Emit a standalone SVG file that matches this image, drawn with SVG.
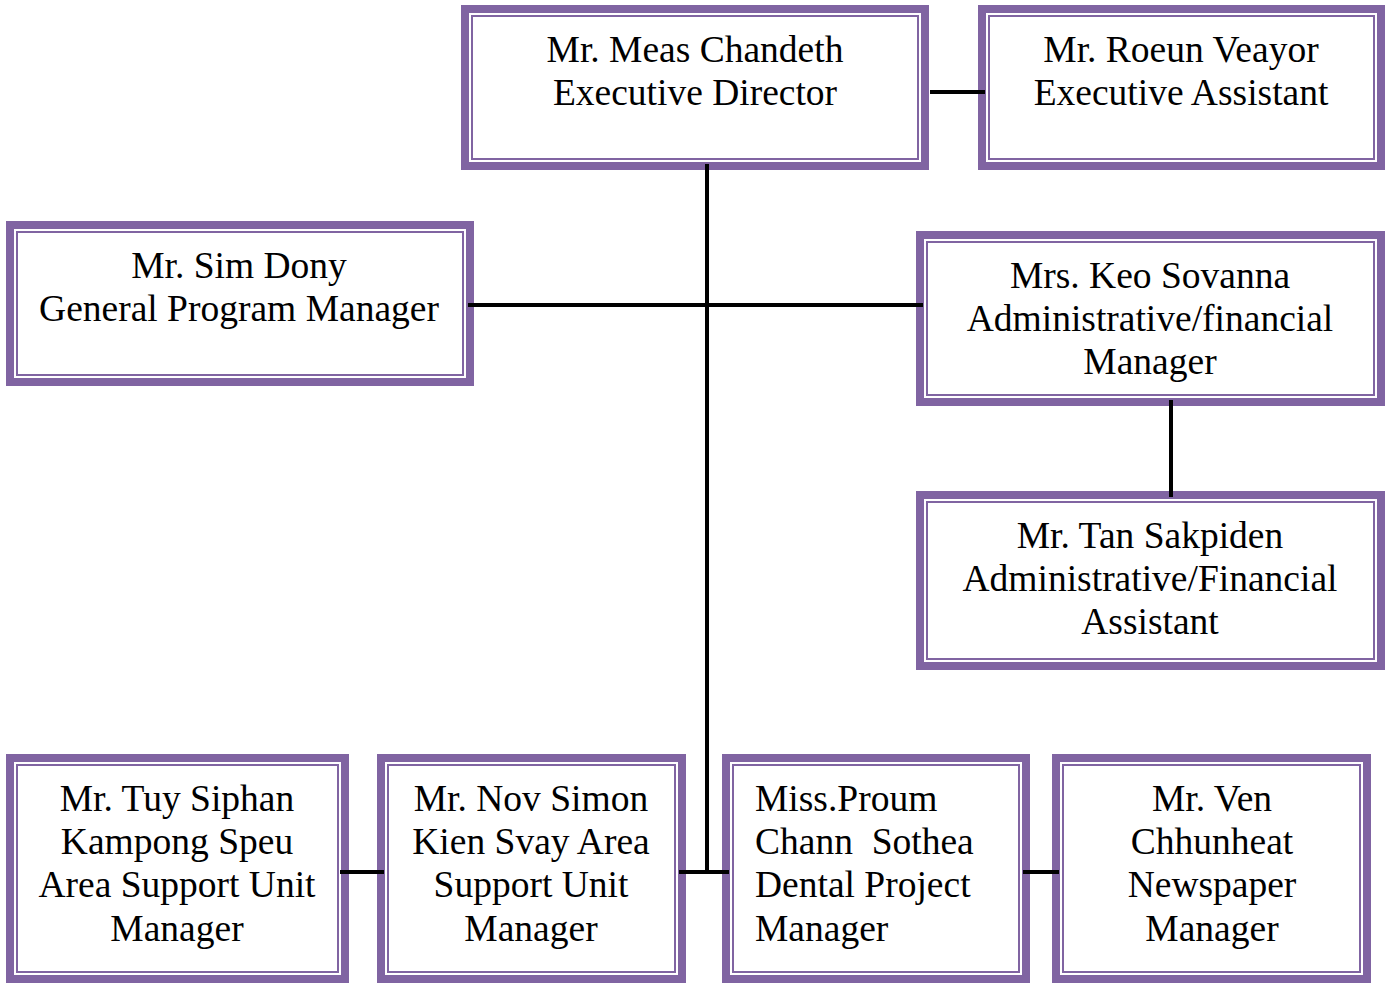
<svg xmlns="http://www.w3.org/2000/svg" width="1388" height="984" viewBox="0 0 1388 984">
  <style>
    .band { fill: #ffffff; stroke: #8064A2; stroke-width: 8; }
    .inner { fill: none; stroke: #8064A2; stroke-width: 2; }
    .lbl { font-family: "Liberation Serif", "Times New Roman", serif; font-size: 37.5px; fill: #000000; text-anchor: middle; white-space: pre; }
    .left { text-anchor: start; }
    .wire { stroke: #000000; stroke-width: 4; fill: none; }
  </style>

  <g id="executive-director">
    <rect class="band" x="465" y="9" width="460" height="157"/>
    <rect class="inner" x="472" y="16" width="446" height="143"/>
    <text class="lbl" x="695" y="62">Mr. Meas Chandeth</text>
    <text class="lbl" x="695" y="105">Executive Director</text>
  </g>

  <g id="executive-assistant">
    <rect class="band" x="982" y="9" width="399" height="157"/>
    <rect class="inner" x="989" y="16" width="385" height="143"/>
    <text class="lbl" x="1181" y="62">Mr. Roeun Veayor</text>
    <text class="lbl" x="1181" y="105">Executive Assistant</text>
  </g>

  <g id="general-program-manager">
    <rect class="band" x="10" y="225" width="460" height="157"/>
    <rect class="inner" x="17" y="232" width="446" height="143"/>
    <text class="lbl" x="239" y="278">Mr. Sim Dony</text>
    <text class="lbl" x="239" y="321">General Program Manager</text>
  </g>

  <g id="admin-financial-manager">
    <rect class="band" x="920" y="235" width="461" height="167"/>
    <rect class="inner" x="927" y="242" width="447" height="153"/>
    <text class="lbl" x="1150" y="288">Mrs. Keo Sovanna</text>
    <text class="lbl" x="1150" y="331">Administrative/financial</text>
    <text class="lbl" x="1150" y="374">Manager</text>
  </g>

  <g id="admin-financial-assistant">
    <rect class="band" x="920" y="495" width="461" height="171"/>
    <rect class="inner" x="927" y="502" width="447" height="157"/>
    <text class="lbl" x="1150" y="548">Mr. Tan Sakpiden</text>
    <text class="lbl" x="1150" y="591">Administrative/Financial</text>
    <text class="lbl" x="1150" y="634">Assistant</text>
  </g>

  <g id="kampong-speu-manager">
    <rect class="band" x="10" y="758" width="335" height="221"/>
    <rect class="inner" x="17" y="765" width="321" height="207"/>
    <text class="lbl" x="177" y="811">Mr. Tuy Siphan</text>
    <text class="lbl" x="177" y="854">Kampong Speu</text>
    <text class="lbl" x="177" y="897">Area Support Unit</text>
    <text class="lbl" x="177" y="941">Manager</text>
  </g>

  <g id="kien-svay-manager">
    <rect class="band" x="381" y="758" width="301" height="221"/>
    <rect class="inner" x="388" y="765" width="287" height="207"/>
    <text class="lbl" x="531" y="811">Mr. Nov Simon</text>
    <text class="lbl" x="531" y="854">Kien Svay Area</text>
    <text class="lbl" x="531" y="897">Support Unit</text>
    <text class="lbl" x="531" y="941">Manager</text>
  </g>

  <g id="dental-project-manager">
    <rect class="band" x="726" y="758" width="300" height="221"/>
    <rect class="inner" x="733" y="765" width="286" height="207"/>
    <text class="lbl left" x="755" y="811">Miss.Proum</text>
    <text class="lbl left" x="755" y="854">Chann  Sothea</text>
    <text class="lbl left" x="755" y="897">Dental Project</text>
    <text class="lbl left" x="755" y="941">Manager</text>
  </g>

  <g id="newspaper-manager">
    <rect class="band" x="1056" y="758" width="311" height="221"/>
    <rect class="inner" x="1063" y="765" width="297" height="207"/>
    <text class="lbl" x="1212" y="811">Mr. Ven</text>
    <text class="lbl" x="1212" y="854">Chhunheat</text>
    <text class="lbl" x="1212" y="897">Newspaper</text>
    <text class="lbl" x="1212" y="941">Manager</text>
  </g>

  <!-- reporting lines, drawn over the box borders -->
  <g id="connectors">
    <line class="wire" x1="707" y1="164" x2="707" y2="874"/>
    <line class="wire" x1="930" y1="92" x2="985" y2="92"/>
    <line class="wire" x1="468" y1="305" x2="923" y2="305"/>
    <line class="wire" x1="1171" y1="400" x2="1171" y2="497"/>
    <line class="wire" x1="340" y1="872" x2="384" y2="872"/>
    <line class="wire" x1="679" y1="872" x2="729" y2="872"/>
    <line class="wire" x1="1023" y1="872" x2="1059" y2="872"/>
  </g>
</svg>
